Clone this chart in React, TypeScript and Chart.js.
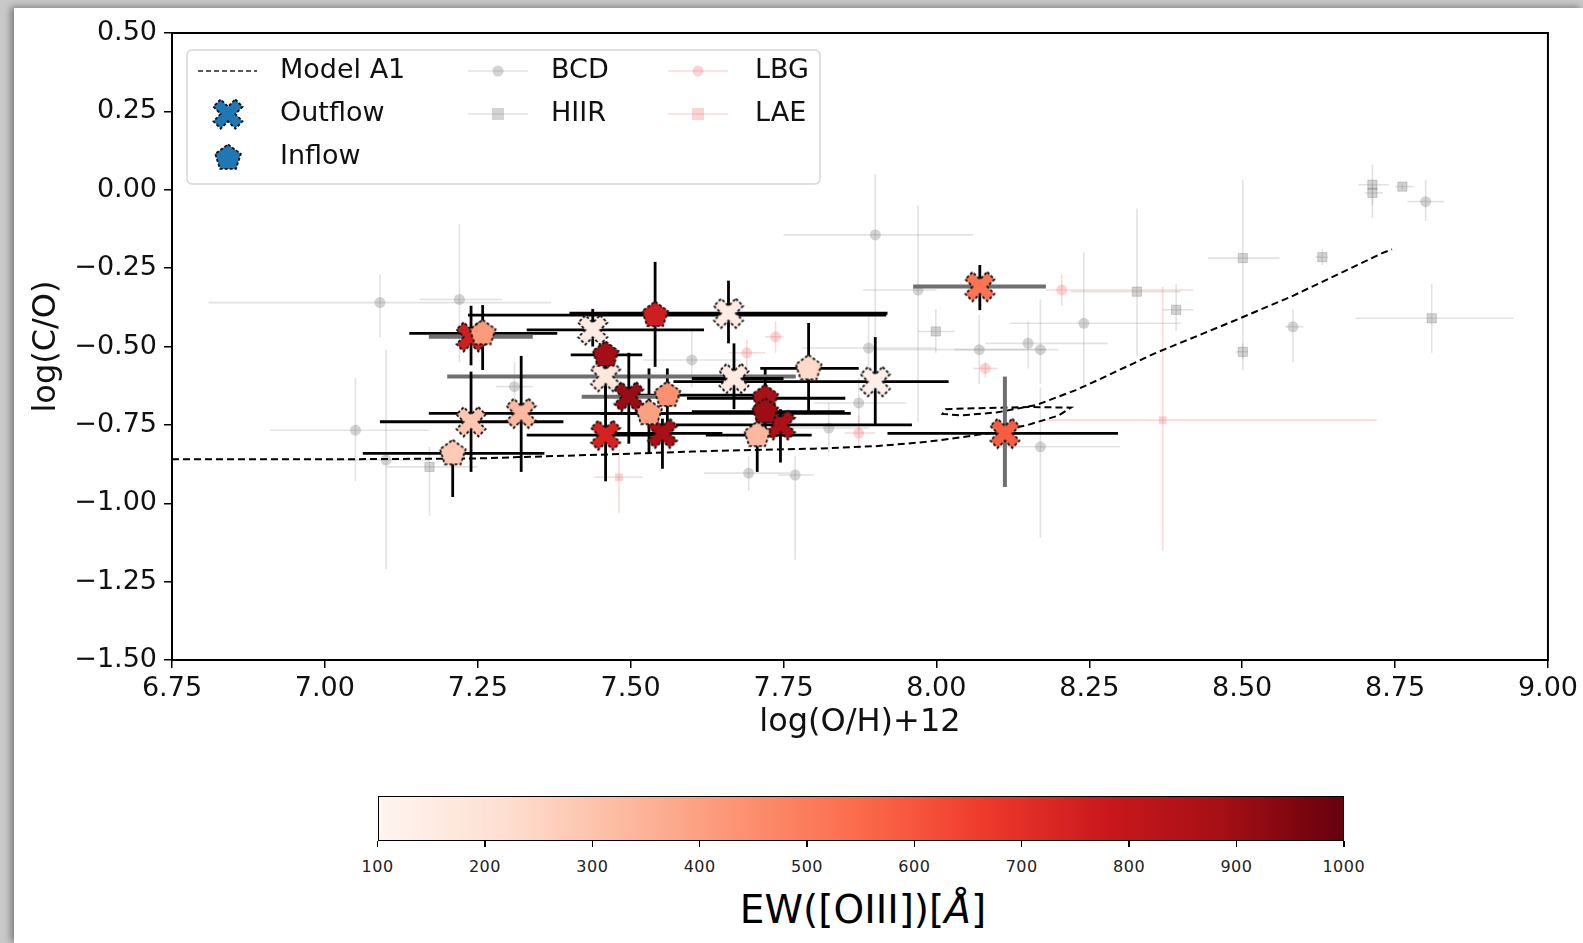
import React, { useEffect, useRef } from "react";
import { Chart, registerables } from "chart.js";
Chart.register(...registerables);

const FONT = "'DejaVu Sans', 'Liberation Sans', sans-serif";

// ---------- axes ----------
const xTicks = [6.75, 7.0, 7.25, 7.5, 7.75, 8.0, 8.25, 8.5, 8.75, 9.0];
const yTicks = [-1.5, -1.25, -1.0, -0.75, -0.5, -0.25, 0.0, 0.25, 0.5];
const cbTicks = [100, 200, 300, 400, 500, 600, 700, 800, 900, 1000];
const EW_MIN = 100;
const EW_MAX = 1000;

// ---------- Model A1 ----------
const modelX = [6.75, 7.0, 7.25, 7.5, 7.6, 7.7, 7.8, 7.9, 7.98, 8.04, 8.09, 8.15, 8.2, 8.22, 8.15, 8.06, 8.015, 8.01, 8.04, 8.1, 8.163, 8.228, 8.264, 8.357, 8.483, 8.58, 8.729, 8.745];
const modelY = [-0.86, -0.86, -0.857, -0.842, -0.835, -0.83, -0.826, -0.818, -0.805, -0.79, -0.775, -0.75, -0.72, -0.695, -0.693, -0.697, -0.7, -0.715, -0.72, -0.71, -0.687, -0.639, -0.607, -0.522, -0.421, -0.341, -0.202, -0.19];

// ---------- Outflow (X markers) ----------
const outX = [7.239, 7.438, 7.66, 7.459, 7.497, 7.669, 7.9, 7.745, 7.459, 7.552, 7.239, 7.321, 8.071, 8.112];
const outY = [-0.469, -0.447, -0.394, -0.596, -0.66, -0.602, -0.612, -0.75, -0.783, -0.777, -0.74, -0.713, -0.309, -0.777];
const outEW = [760, 155, 150, 170, 910, 160, 130, 870, 740, 880, 290, 330, 520, 580];
const outXLo = [7.17, 7.33, 7.4, 7.2, 7.42, 7.6, 7.57, 7.574, 7.33, 7.45, 7.09, 7.17, 7.962, 7.92];
const outXHi = [7.34, 7.62, 7.92, 7.77, 7.58, 7.75, 8.02, 7.96, 7.546, 7.65, 7.39, 7.56, 8.179, 8.297];
const outYLo = [-0.56, -0.5, -0.49, -0.66, -0.81, -0.7, -0.75, -0.87, -0.93, -0.89, -0.9, -0.9, -0.384, -0.948];
const outYHi = [-0.37, -0.38, -0.29, -0.54, -0.52, -0.49, -0.47, -0.7, -0.6, -0.73, -0.58, -0.53, -0.24, -0.596];
const outXGray = [1, 0, 0, 1, 1, 0, 0, 0, 0, 0, 0, 0, 1, 0];
const outYGray = [0, 0, 0, 0, 0, 0, 0, 0, 0, 0, 0, 0, 0, 1];

// ---------- Inflow (pentagons) ----------
const inX = [7.258, 7.54, 7.459, 7.56, 7.53, 7.791, 7.72, 7.72, 7.707, 7.209];
const inY = [-0.458, -0.4, -0.527, -0.655, -0.713, -0.57, -0.665, -0.708, -0.783, -0.841];
const inEW = [415, 760, 890, 440, 400, 230, 880, 900, 330, 280];
const inXLo = [7.138, 7.234, 7.402, 7.5, 7.45, 7.712, 7.592, 7.6, 7.623, 7.062];
const inXHi = [7.38, 7.918, 7.519, 7.7, 7.86, 7.873, 7.851, 7.85, 7.796, 7.359];
const inYLo = [-0.575, -0.565, -0.57, -0.75, -0.84, -0.71, -0.75, -0.8, -0.9, -0.98];
const inYHi = [-0.368, -0.23, -0.49, -0.57, -0.57, -0.425, -0.57, -0.62, -0.7, -0.8];

// ---------- BCD (gray circles) ----------
const bcdX = [7.09, 7.22, 7.05, 7.1, 7.31, 7.9, 7.6, 7.889, 7.873, 7.824, 7.769, 7.693, 7.97, 8.07, 8.15, 8.17, 8.17, 8.241, 8.583, 8.8];
const bcdY = [-0.36, -0.35, -0.767, -0.862, -0.628, -0.144, -0.543, -0.505, -0.68, -0.76, -0.91, -0.904, -0.32, -0.51, -0.49, -0.51, -0.82, -0.426, -0.437, -0.038];
const bcdXLo = [6.81, 7.155, 6.91, 7.0, 7.28, 7.75, 7.52, 7.78, 7.8, 7.76, 7.74, 7.62, 7.88, 7.9, 8.08, 8.03, 8.1, 8.12, 8.57, 8.77];
const bcdXHi = [7.37, 7.29, 7.17, 7.17, 7.34, 8.06, 7.68, 8.0, 7.95, 7.89, 7.8, 7.76, 8.0, 8.18, 8.28, 8.2, 8.3, 8.4, 8.6, 8.83];
const bcdYLo = [-0.47, -0.55, -0.93, -1.21, -0.7, -0.65, -0.63, -0.6, -0.77, -0.84, -1.18, -0.96, -0.74, -0.62, -0.57, -0.62, -1.11, -0.63, -0.55, -0.1];
const bcdYHi = [-0.27, -0.11, -0.6, -0.51, -0.55, 0.05, -0.45, -0.4, -0.6, -0.68, -0.85, -0.85, -0.05, -0.4, -0.42, -0.35, -0.63, -0.2, -0.38, 0.03];

// ---------- HIIR (gray squares) ----------
const hiiX = [7.171, 7.999, 8.328, 8.392, 8.501, 8.631, 8.501, 8.713, 8.713, 8.762, 8.81];
const hiiY = [-0.884, -0.452, -0.325, -0.383, -0.218, -0.215, -0.517, 0.016, -0.01, 0.01, -0.41];
const hiiXLo = [7.1, 7.97, 8.22, 8.37, 8.444, 8.62, 8.49, 8.69, 8.7, 8.75, 8.685];
const hiiXHi = [7.25, 8.03, 8.4, 8.42, 8.561, 8.64, 8.51, 8.74, 8.73, 8.78, 8.944];
const hiiYLo = [-1.04, -0.52, -0.53, -0.45, -0.575, -0.24, -0.54, -0.09, -0.05, 0.0, -0.52];
const hiiYHi = [-0.82, -0.38, -0.06, -0.3, 0.03, -0.19, -0.49, 0.08, 0.02, 0.02, -0.3];

// ---------- LBG (pink circles) ----------
const lbgX = [8.205, 7.737, 7.873, 8.08, 7.69];
const lbgY = [-0.32, -0.469, -0.776, -0.57, -0.52];
const lbgXLo = [8.18, 7.72, 7.85, 8.06, 7.66];
const lbgXHi = [8.42, 7.75, 7.9, 8.1, 7.72];
const lbgYLo = [-0.37, -0.52, -0.83, -0.6, -0.57];
const lbgYHi = [-0.27, -0.42, -0.72, -0.55, -0.48];

// ---------- LAE (pink squares) ----------
const laeX = [8.37, 7.481];
const laeY = [-0.735, -0.917];
const laeXLo = [8.18, 7.44];
const laeXHi = [8.72, 7.52];
const laeYLo = [-1.15, -1.03];
const laeYHi = [-0.31, -0.83];

// ---------- colormap (matplotlib Reds) ----------
const REDS: [number, string][] = [
  [0, "#fff5f0"], [0.125, "#fee0d2"], [0.25, "#fcbba1"], [0.375, "#fc9272"],
  [0.5, "#fb6a4a"], [0.625, "#ef3b2c"], [0.75, "#cb181d"], [0.875, "#a50f15"], [1, "#67000d"],
];
function hexRgb(h: string) {
  return [parseInt(h.slice(1, 3), 16), parseInt(h.slice(3, 5), 16), parseInt(h.slice(5, 7), 16)];
}
function reds(ew: number) {
  const t = Math.max(0, Math.min(1, (ew - EW_MIN) / (EW_MAX - EW_MIN)));
  for (let i = 0; i < REDS.length - 1; i++) {
    const [t0, c0] = REDS[i];
    const [t1, c1] = REDS[i + 1];
    if (t <= t1) {
      const f = (t - t0) / (t1 - t0);
      const a = hexRgb(c0), b = hexRgb(c1);
      return `rgb(${a.map((v, k) => Math.round(v + (b[k] - v) * f)).join(",")})`;
    }
  }
  return REDS[REDS.length - 1][1];
}

function tracePath(g: CanvasRenderingContext2D, shape: string, cx: number, cy: number) {
  g.beginPath();
  if (shape === "X") {
    const pts = [[-1, -3], [1, -3], [1, -1], [3, -1], [3, 1], [1, 1], [1, 3], [-1, 3], [-1, 1], [-3, 1], [-3, -1], [-1, -1]];
    const S = 31 / 6;
    const r = Math.SQRT1_2;
    pts.forEach(([x, y], i) => {
      const X = cx + (x - y) * r * S;
      const Y = cy + (x + y) * r * S;
      if (i) g.lineTo(X, Y); else g.moveTo(X, Y);
    });
  } else {
    const R = 13.5;
    for (let k = 0; k < 5; k++) {
      const a = -Math.PI / 2 + (k * 2 * Math.PI) / 5;
      const X = cx + R * Math.cos(a);
      const Y = cy + R * Math.sin(a);
      if (k) g.lineTo(X, Y); else g.moveTo(X, Y);
    }
  }
  g.closePath();
}
function paintMarker(g: CanvasRenderingContext2D, shape: string, cx: number, cy: number, fill: string) {
  g.save();
  tracePath(g, shape, cx, cy);
  g.fillStyle = fill;
  g.fill();
  g.lineWidth = 1.8;
  g.strokeStyle = "#111";
  g.setLineDash([3, 2]);
  g.stroke();
  g.restore();
}
function makeMarker(shape: string, fill: string) {
  const c = document.createElement("canvas");
  c.width = 40;
  c.height = 40;
  const g = c.getContext("2d")!;
  paintMarker(g, shape, 20, 20, fill);
  return c;
}

function drawBars(
  chart: any, xs: number[], ys: number[], xlo: number[], xhi: number[], ylo: number[], yhi: number[],
  colX: (i: number) => string, colY: (i: number) => string, lwX: (i: number) => number, lwY: (i: number) => number
) {
  const { ctx, chartArea: a, scales } = chart;
  const sx = scales.x, sy = scales.y;
  ctx.save();
  ctx.beginPath();
  ctx.rect(a.left, a.top, a.right - a.left, a.bottom - a.top);
  ctx.clip();
  ctx.lineCap = "butt";
  xs.forEach((x, i) => {
    const px = sx.getPixelForValue(x), py = sy.getPixelForValue(ys[i]);
    ctx.strokeStyle = colX(i);
    ctx.lineWidth = lwX(i);
    ctx.beginPath();
    ctx.moveTo(sx.getPixelForValue(xlo[i]), py);
    ctx.lineTo(sx.getPixelForValue(xhi[i]), py);
    ctx.stroke();
    ctx.strokeStyle = colY(i);
    ctx.lineWidth = lwY(i);
    ctx.beginPath();
    ctx.moveTo(px, sy.getPixelForValue(ylo[i]));
    ctx.lineTo(px, sy.getPixelForValue(yhi[i]));
    ctx.stroke();
  });
  ctx.restore();
}

const GRAY_ERR = "rgba(150,150,150,0.28)";
const PINK_ERR = "rgba(240,128,128,0.3)";
const GRAY_PT = "rgba(128,128,128,0.35)";
const PINK_PT = "rgba(240,128,128,0.35)";
const BLUE = "#1f77b4";

const errPlugin = {
  id: "errbars",
  beforeDatasetDraw(chart: any, args: any) {
    const label = chart.data.datasets[args.index].label;
    const g = () => GRAY_ERR, p = () => PINK_ERR, one = () => 1.6;
    if (label === "BCD") drawBars(chart, bcdX, bcdY, bcdXLo, bcdXHi, bcdYLo, bcdYHi, g, g, one, one);
    if (label === "HIIR") drawBars(chart, hiiX, hiiY, hiiXLo, hiiXHi, hiiYLo, hiiYHi, g, g, one, one);
    if (label === "LBG") drawBars(chart, lbgX, lbgY, lbgXLo, lbgXHi, lbgYLo, lbgYHi, p, p, one, one);
    if (label === "LAE") drawBars(chart, laeX, laeY, laeXLo, laeXHi, laeYLo, laeYHi, p, p, one, one);
    if (label === "Outflow") {
      drawBars(chart, inX, inY, inXLo, inXHi, inYLo, inYHi, () => "#000", () => "#000", () => 2.8, () => 2.8);
      drawBars(chart, outX, outY, outXLo, outXHi, outYLo, outYHi,
        (i) => (outXGray[i] ? "#6f6f6f" : "#000"), (i) => (outYGray[i] ? "#6f6f6f" : "#000"),
        (i) => (outXGray[i] ? 4 : 2.8), (i) => (outYGray[i] ? 4 : 2.8));
    }
  },
};

const framePlugin = {
  id: "frame",
  afterDraw(chart: any) {
    const { ctx, chartArea: a } = chart;
    ctx.save();
    ctx.strokeStyle = "#000";
    ctx.lineWidth = 2;
    ctx.strokeRect(a.left, a.top, a.right - a.left, a.bottom - a.top);

    // legend box
    ctx.beginPath();
    (ctx as any).roundRect(187, 50, 633, 134, 5);
    ctx.fillStyle = "rgba(255,255,255,0.85)";
    ctx.fill();
    ctx.strokeStyle = "#d6d6d6";
    ctx.lineWidth = 1.5;
    ctx.stroke();

    const rows = [71, 114, 157];
    ctx.font = `27px ${FONT}`;
    ctx.textBaseline = "middle";
    ctx.textAlign = "left";
    ctx.fillStyle = "#111";
    ctx.fillText("Model A1", 280, rows[0]);
    ctx.fillText("Outflow", 280, rows[1]);
    ctx.fillText("Inflow", 280, rows[2]);
    ctx.fillText("BCD", 551, rows[0]);
    ctx.fillText("HIIR", 551, rows[1]);
    ctx.fillText("LBG", 755, rows[0]);
    ctx.fillText("LAE", 755, rows[1]);

    // handles
    ctx.save();
    ctx.strokeStyle = "#222";
    ctx.lineWidth = 1.5;
    ctx.setLineDash([5, 3]);
    ctx.beginPath();
    ctx.moveTo(198, rows[0]);
    ctx.lineTo(257, rows[0]);
    ctx.stroke();
    ctx.restore();
    paintMarker(ctx, "X", 228, rows[1], BLUE);
    paintMarker(ctx, "P", 228, rows[2] + 1, BLUE);

    const handle = (x0: number, y: number, col: string, pcol: string, square: boolean) => {
      ctx.strokeStyle = col;
      ctx.lineWidth = 1.6;
      ctx.beginPath();
      ctx.moveTo(x0, y);
      ctx.lineTo(x0 + 60, y);
      ctx.stroke();
      ctx.fillStyle = pcol;
      if (square) ctx.fillRect(x0 + 24, y - 6, 12, 12);
      else { ctx.beginPath(); ctx.arc(x0 + 30, y, 5.5, 0, Math.PI * 2); ctx.fill(); }
    };
    handle(468, rows[0], GRAY_ERR, GRAY_PT, false);
    handle(468, rows[1], GRAY_ERR, GRAY_PT, true);
    handle(668, rows[0], PINK_ERR, PINK_PT, false);
    handle(668, rows[1], PINK_ERR, PINK_PT, true);
    ctx.restore();
  },
};

const fmt = (v: number) => v.toFixed(2).replace("-", "\u2212");

export default function App() {
  const ref = useRef<HTMLCanvasElement>(null);
  useEffect(() => {
    const outImgs = outX.map((_, i) => makeMarker("X", reds(outEW[i])));
    const inImgs = inX.map((_, i) => makeMarker("P", reds(inEW[i])));
    const pts = (xs: number[], ys: number[]) => xs.map((x, i) => ({ x, y: ys[i] }));
    const chart = new Chart(ref.current!, {
      type: "scatter",
      data: {
        datasets: [
          { label: "BCD", data: pts(bcdX, bcdY), order: 9, pointStyle: "circle", pointRadius: 5.5, backgroundColor: GRAY_PT, borderWidth: 0 } as any,
          { label: "HIIR", data: pts(hiiX, hiiY), order: 8, pointStyle: "rect", pointRadius: 6.5, backgroundColor: GRAY_PT, borderColor: "rgba(110,110,110,0.3)", borderWidth: 1 },
          { label: "LBG", data: pts(lbgX, lbgY), order: 7, pointStyle: "circle", pointRadius: 5.5, backgroundColor: PINK_PT, borderWidth: 0 },
          { label: "LAE", data: pts(laeX, laeY), order: 6, pointStyle: "rect", pointRadius: 5.5, backgroundColor: PINK_PT, borderWidth: 0 },
          { label: "Model A1", data: pts(modelX, modelY), order: 5, showLine: true, pointRadius: 0, borderColor: "#000", borderWidth: 2, borderDash: [7, 4], fill: false, tension: 0 },
          { label: "Outflow", data: pts(outX, outY), order: 2, pointStyle: outImgs as any, pointRadius: 15 },
          { label: "Inflow", data: pts(inX, inY), order: 1, pointStyle: inImgs as any, pointRadius: 14 },
        ],
      },
      options: {
        animation: false,
        responsive: false,
        events: [],
        layout: { padding: { left: 0, right: 32, top: 33, bottom: 18 } },
        plugins: { legend: { display: false }, tooltip: { enabled: false } },
        scales: {
          x: {
            type: "linear",
            min: 6.75,
            max: 9.0,
            afterBuildTicks: (s: any) => { s.ticks = xTicks.map((value) => ({ value })); },
            afterFit: (s: any) => { s.height = 82; },
            ticks: { font: { size: 27, family: FONT }, color: "#111", padding: 5, maxRotation: 0, autoSkip: false, callback: (v: any) => fmt(Number(v)) },
            grid: { drawOnChartArea: false, drawTicks: true, tickLength: 8, color: "#000", lineWidth: 1.5 },
            border: { display: false },
            title: { display: true, text: "log(O/H)+12", font: { size: 32, family: FONT }, color: "#111", padding: { top: 0, bottom: 0 } },
          },
          y: {
            type: "linear",
            min: -1.5,
            max: 0.5,
            afterBuildTicks: (s: any) => { s.ticks = yTicks.map((value) => ({ value })); },
            afterFit: (s: any) => { s.width = 172; },
            ticks: { font: { size: 27, family: FONT }, color: "#111", padding: 7, autoSkip: false, callback: (v: any) => fmt(Number(v)) },
            grid: { drawOnChartArea: false, drawTicks: true, tickLength: 8, color: "#000", lineWidth: 1.5 },
            border: { display: false },
            title: { display: true, text: "log(C/O)", font: { size: 32, family: FONT }, color: "#111", padding: { top: 27, bottom: 0 } },
          },
        },
      },
      plugins: [errPlugin, framePlugin],
    } as any);
    return () => chart.destroy();
  }, []);

  const cbLeft = 377.6, cbTop = 795.6, cbW = 966.2, cbH = 45.5;
  const grad = `linear-gradient(to right, ${REDS.map(([t, c]) => `${c} ${t * 100}%`).join(", ")})`;

  return (
    <div style={{ position: "absolute", left: 0, top: 0, width: 1583, height: 943, background: "#c9c9c9", overflow: "hidden", fontFamily: FONT }}>
      <div style={{ position: "absolute", left: 14, top: 8, right: 0, bottom: 0, background: "#fff", boxShadow: "-3px -1px 7px rgba(0,0,0,0.4)" }} />
      <canvas ref={ref} width={1583} height={760} style={{ position: "absolute", left: 0, top: 0 }} />
      <div style={{ position: "absolute", left: cbLeft, top: cbTop, width: cbW, height: cbH, background: grad, border: "1.5px solid #000", boxSizing: "border-box" }} />
      {cbTicks.map((v) => {
        const x = cbLeft + ((v - EW_MIN) / (EW_MAX - EW_MIN)) * cbW;
        return (
          <React.Fragment key={v}>
            <div style={{ position: "absolute", left: x - 0.75, top: cbTop + cbH, width: 1.5, height: 6, background: "#000" }} />
            <div style={{ position: "absolute", left: x - 40, top: 856, width: 80, lineHeight: "22px", fontSize: 16, textAlign: "center", color: "#222", letterSpacing: "0.5px" }}>{v}</div>
          </React.Fragment>
        );
      })}
      <div style={{ position: "absolute", left: 563, top: 887, width: 600, lineHeight: "46px", fontSize: 39, textAlign: "center", color: "#000", whiteSpace: "nowrap" }}>
        EW([OIII])[<i>Å</i>]
      </div>
    </div>
  );
}
